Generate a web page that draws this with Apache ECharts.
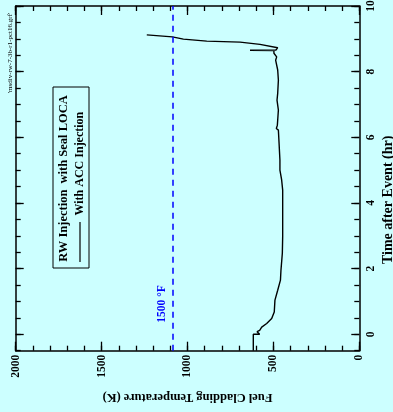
<!DOCTYPE html>
<html>
<head>
<meta charset="utf-8">
<script src="https://cdn.jsdelivr.net/npm/echarts@6/dist/echarts.min.js"></script>
<style>
  html, body { margin: 0; padding: 0; background: #ccffff; }
  #chart { width: 393px; height: 412px; }
</style>
</head>
<body>
<div id="chart"></div>
<script>
// Cladding temperature history, RW injection with seal LOCA (with ACC injection)
const timeHr = [-0.5, 0.0, 0.0, 0.08, 0.12, 0.22, 0.33, 0.48, 0.68, 1.04, 1.34, 1.65, 1.95,
  2.47, 2.97, 3.99, 4.39, 4.70, 5.00, 5.30, 5.82, 6.22, 6.27, 6.37, 6.83, 7.13, 7.34,
  7.74, 8.05, 8.35, 8.45, 8.56, 8.60, 8.64, 8.65, 8.66, 8.73, 8.83, 8.90, 8.93, 8.99,
  9.06, 9.12];
const cladTempK = [617, 617, 580, 595, 580, 568, 539, 510, 495, 491, 475, 459, 456,
  448, 446, 446, 446, 452, 462, 462, 467, 471, 483, 477, 471, 479, 475,
  471, 475, 487, 481, 497, 491, 497, 636, 485, 475, 578, 694, 888, 1024,
  1088, 1237];

const tempTicks = [2000, 1500, 1000, 500, 0];
const timeTicks = [0, 2, 4, 6, 8, 10];
const limitTempK = 1088.7;          // 1500 °F
const limitLabel = '1500 °F';
const legendTitle = 'RW Injection  with Seal LOCA';
const seriesName = 'With ACC Injection';
const fileTag = "'msdiv-rw-7-3b-r1-pct16.grf'";

const serif = '"Liberation Serif", "Times New Roman", serif';
const black = '#000';
const lineW = 1.5;

function near(list, v) {
  return list.some(function (t) { return Math.abs(t - v) < 1e-6; });
}
function tickStyle(len) {
  return { show: true, inside: true, length: len, lineStyle: { color: black, width: 1.3 } };
}
function frameLine(show) {
  return { show: show, onZero: false, lineStyle: { color: black, width: lineW } };
}

function tempAxis(position, opts) {
  return Object.assign({
    type: 'value', position: position, min: 0, max: 2000, inverse: true,
    axisLine: frameLine(false),
    axisTick: tickStyle(5),
    axisLabel: { show: false },
    splitLine: { show: false }
  }, opts);
}
function timeAxis(position, opts) {
  return Object.assign({
    type: 'value', position: position, min: -0.5, max: 10,
    axisLine: frameLine(false),
    axisTick: tickStyle(5),
    axisLabel: { show: false },
    splitLine: { show: false }
  }, opts);
}

const chart = echarts.init(document.getElementById('chart'), null, { renderer: 'canvas' });

chart.setOption({
  backgroundColor: '#ccffff',
  animation: false,
  grid: { left: 15.7, right: 33.7, top: 6, bottom: 61.3, containLabel: false, outerBoundsMode: 'none' },
  xAxis: [
    tempAxis('bottom', {
      interval: 100,
      axisLine: frameLine(true),
      axisLabel: {
        show: true, rotate: 90, margin: 4,
        formatter: function (v) { return near(tempTicks, v) ? String(v) : ''; },
        fontFamily: serif, fontWeight: 'bold', fontSize: 11.5, color: black
      },
      name: 'Fuel Cladding Temperature (K)', nameLocation: 'middle', nameGap: 40, nameRotate: 180,
      nameMoveOverlap: false,
      nameTextStyle: { fontFamily: serif, fontWeight: 'bold', fontSize: 12.5, color: black }
    }),
    tempAxis('bottom', { interval: 500, axisTick: tickStyle(9) }),
    tempAxis('top', { interval: 100, axisLine: frameLine(true) }),
    tempAxis('top', { interval: 500, axisTick: tickStyle(9) })
  ],
  yAxis: [
    timeAxis('right', {
      interval: 0.5,
      axisLine: frameLine(true),
      axisLabel: {
        show: true, rotate: 90, margin: 6,
        formatter: function (v) { return near(timeTicks, v) ? String(v) : ''; },
        fontFamily: serif, fontWeight: 'bold', fontSize: 11.5, color: black
      },
      name: 'Time after Event (hr)', nameLocation: 'middle', nameGap: 22, nameRotate: 90,
      nameMoveOverlap: false,
      nameTextStyle: { fontFamily: serif, fontWeight: 'bold', fontSize: 14, color: black, padding: [0, 43, 0, 0] }
    }),
    timeAxis('right', { axisTick: Object.assign(tickStyle(8), { customValues: timeTicks }) }),
    timeAxis('left', { interval: 0.5, axisLine: frameLine(true) }),
    timeAxis('left', { axisTick: Object.assign(tickStyle(8), { customValues: timeTicks }) })
  ],
  series: [{
    name: seriesName,
    type: 'line',
    xAxisIndex: 0, yAxisIndex: 0,
    data: timeHr.map(function (t, i) { return [cladTempK[i], t]; }),
    showSymbol: false, symbol: 'none',
    lineStyle: { color: black, width: 1.4 },
    markLine: {
      silent: true, symbol: 'none',
      lineStyle: { color: '#0000ff', type: [6, 5], width: 1.5 },
      label: {
        show: true, formatter: limitLabel, position: 'insideStartTop', distance: [28, 4],
        color: '#0000ff', fontFamily: serif, fontWeight: 'bold', fontSize: 11.5
      },
      data: [{ xAxis: limitTempK }]
    }
  }],
  graphic: [
    {
      type: 'group', x: 71, y: 177.5, rotation: Math.PI / 2,
      children: [
        { type: 'rect', shape: { x: -90.5, y: -18, width: 181, height: 36 },
          style: { fill: 'none', stroke: black, lineWidth: 1 } },
        { type: 'text', x: -1, y: -7,
          style: { text: legendTitle, font: 'bold 12.5px ' + serif, fill: black, align: 'center', verticalAlign: 'middle' } },
        { type: 'line', shape: { x1: -84.5, y1: 9, x2: -44.5, y2: 9 },
          style: { stroke: black, lineWidth: 1.2 } },
        { type: 'text', x: -38, y: 9,
          style: { text: seriesName, font: 'bold 12px ' + serif, fill: black, align: 'left', verticalAlign: 'middle' } }
      ]
    },
    {
      type: 'text', x: 10, y: 53, rotation: Math.PI / 2,
      style: { text: fileTag, font: '7px ' + serif, fill: black, align: 'center', verticalAlign: 'middle' }
    }
  ]
});
</script>
</body>
</html>
